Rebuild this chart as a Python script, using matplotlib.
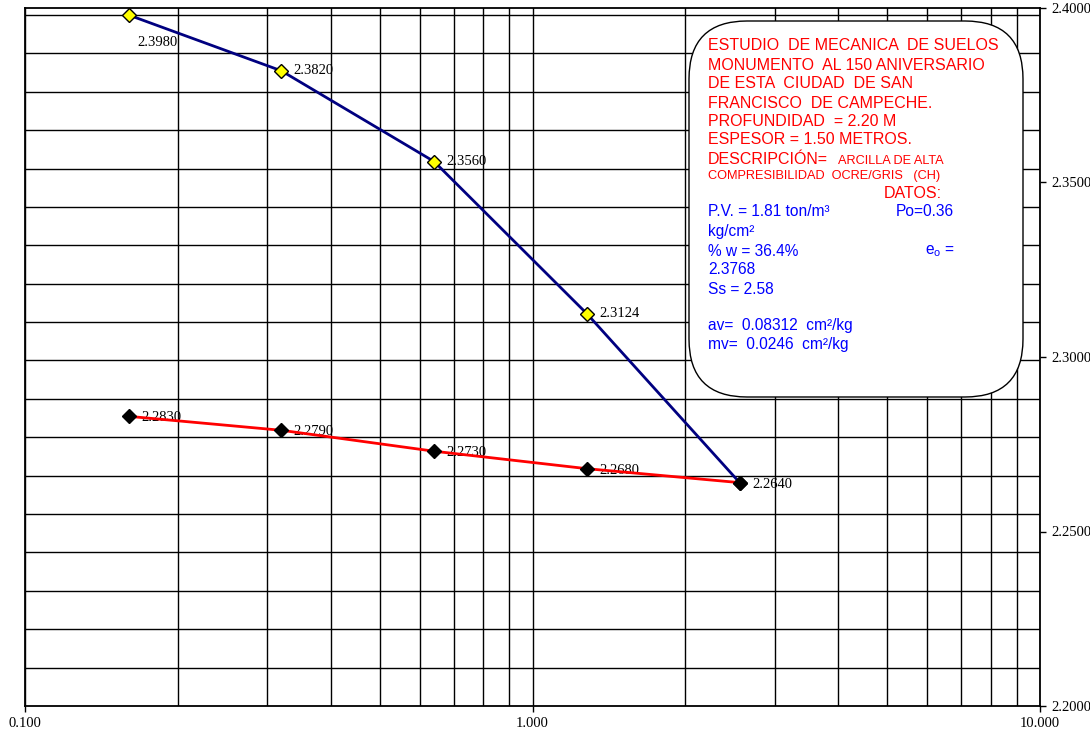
import numpy as np
import matplotlib
matplotlib.use("Agg")
import matplotlib.pyplot as plt
import matplotlib.ticker as ticker
from matplotlib.patches import FancyBboxPatch
from matplotlib.transforms import IdentityTransform

# presion (kg/cm2) y relacion de vacios
presion = [0.16, 0.32, 0.64, 1.28, 2.56]
e_carga = [2.3980, 2.3820, 2.3560, 2.3124, 2.2640]
presion_desc = [0.16, 0.32, 0.64, 1.28, 2.56]
e_descarga = [2.2830, 2.2790, 2.2730, 2.2680, 2.2640]

y_ticks = [2.20, 2.25, 2.30, 2.35, 2.40]
y_grid = list(np.round(2.2 + 0.011 * np.arange(19), 3))
x_ticks = [0.1, 1.0, 10.0]
x_labels = ["0.100", "1.000", "10.000"]

serif = "Liberation Serif"
sans = "Liberation Sans"

fig = plt.figure(figsize=(10.9, 7.33), dpi=100)
ax = fig.add_axes([25 / 1090, 27 / 733, 1015 / 1090, 698 / 733])

ax.set_xscale("log")
ax.set_xlim(0.1, 10)
ax.set_ylim(2.2, 2.4)

# grid
ax.xaxis.set_major_locator(ticker.FixedLocator(x_ticks))
ax.xaxis.set_minor_locator(ticker.LogLocator(base=10, subs=np.arange(2, 10)))
ax.xaxis.set_minor_formatter(ticker.NullFormatter())
ax.set_xticklabels(x_labels, fontfamily=serif, fontsize=10.5)
ax.yaxis.set_major_locator(ticker.FixedLocator(y_ticks))
ax.yaxis.set_minor_locator(ticker.FixedLocator(y_grid))
ax.yaxis.set_major_formatter(ticker.FormatStrFormatter("%.4f"))
ax.yaxis.tick_right()
for lab in ax.get_yticklabels():
    lab.set_fontfamily(serif)
    lab.set_fontsize(10.5)

ax.grid(True, axis="x", which="both", color="black", lw=1.0)
ax.grid(True, axis="y", which="minor", color="black", lw=1.0)
ax.tick_params(which="minor", length=0)
ax.tick_params(which="major", length=4, width=1, direction="out", pad=4)
for s in ax.spines.values():
    s.set_linewidth(1.3)
ax.set_axisbelow(True)

# curvas
ax.plot(presion, e_carga, color="#000080", lw=2, marker="D", ms=7,
        mfc="#FFFF00", mec="black", mew=1, zorder=3)
ax.plot(presion_desc, e_descarga, color="#FF0000", lw=2, marker="D", ms=7,
        mfc="black", mec="black", zorder=4)

# etiquetas
for i, (x, y) in enumerate(zip(presion[:-1], e_carga[:-1])):
    if i == 0:
        ax.annotate(f"{y:.4f}", (x, y), xytext=(6, -20), textcoords="offset points",
                    fontfamily=serif, fontsize=10.5, va="center")
    else:
        ax.annotate(f"{y:.4f}", (x, y), xytext=(9, 0), textcoords="offset points",
                    fontfamily=serif, fontsize=10.5, va="center")
for x, y in zip(presion_desc, e_descarga):
    ax.annotate(f"{y:.4f}", (x, y), xytext=(9, -1), textcoords="offset points",
                fontfamily=serif, fontsize=10.5, va="center")

# cuadro de datos (pixeles)
H = 733
box = FancyBboxPatch((689, H - 397), 334, 376,
                     boxstyle="round,pad=0,rounding_size=58",
                     transform=IdentityTransform(), fc="white", ec="black",
                     lw=1, zorder=5)
fig.patches.append(box)

def txt(x, y, s, color, size=11.2, **kw):
    fig.text(x / 1090, (H - y) / H, s, color=color, fontsize=size,
             fontfamily=sans, va="center", ha="left", zorder=6, **kw)

red = "#FF0000"
blue = "#0000FF"
txt(708, 45, "ESTUDIO  DE MECANICA  DE SUELOS", red, 11.5)
txt(708, 65, "MONUMENTO  AL 150 ANIVERSARIO", red, 11.5)
txt(708, 83, "DE ESTA  CIUDAD  DE SAN", red, 11.5)
txt(708, 103, "FRANCISCO  DE CAMPECHE.", red, 11.5)
txt(708, 122, "PROFUNDIDAD  = 2.20 M", red, 11.5)
txt(708, 140, "ESPESOR = 1.50 METROS.", red, 11.5)
txt(708, 160, "DESCRIPCIÓN=", red, 11.5)
txt(838, 161, "ARCILLA DE ALTA", red, size=9.2)
txt(708, 176, "COMPRESIBILIDAD  OCRE/GRIS   (CH)", red, size=9.2)
txt(884, 193, "DATOS:", red, 11.5)
txt(708, 212, "P.V. = 1.81 ton/m³", blue)
txt(896, 212, "Po=0.36", blue)
txt(708, 232, "kg/cm²", blue)
txt(708, 251, "% w = 36.4%", blue)
txt(925, 251, r"$\mathregular{e_o}$ =", blue)
txt(708, 269, "2.3768", blue)
txt(708, 289, "Ss = 2.58", blue)
txt(708, 326, "av=  0.08312  cm²/kg", blue)
txt(708, 345, "mv=  0.0246  cm²/kg", blue)

fig.savefig("out.png", dpi=100)
